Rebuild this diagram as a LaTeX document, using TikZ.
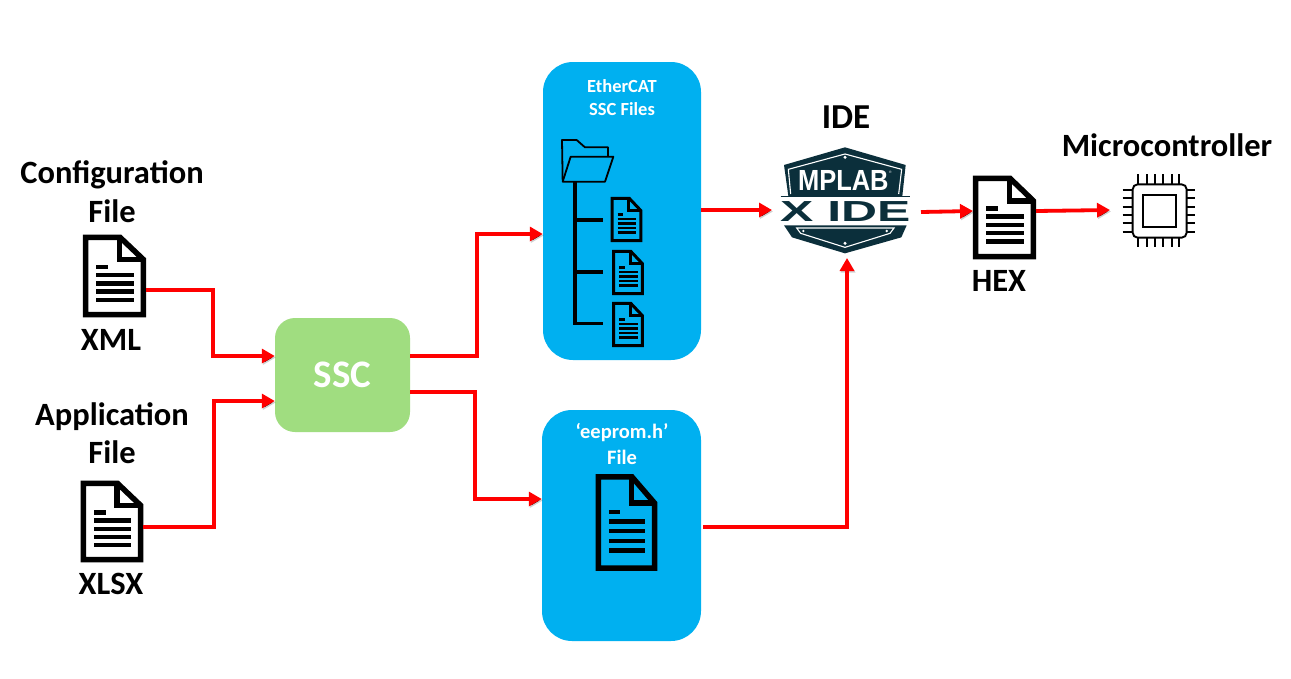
\documentclass[tikz,border=0pt]{standalone}
\usepackage{fontspec}
\setmainfont{Carlito}
\newfontfamily\logofont{Liberation Sans}
\usetikzlibrary{arrows.meta,calc}
\definecolor{flowred}{HTML}{FF0000}
\definecolor{panelblue}{HTML}{00B0F0}
\definecolor{sscgreen}{HTML}{A0DD80}
\definecolor{logoteal}{HTML}{0B2F3B}
\tikzset{
  x=1pt,y=-1pt,
  lbl/.style={font=\fontsize{32.5}{32}\selectfont\bfseries,text=black,anchor=base,inner sep=0pt},
  sublbl/.style={font=\fontsize{19}{19}\selectfont\bfseries,text=white,anchor=base,inner sep=0pt},
  panel/.style={fill=panelblue,draw=none,rounded corners=30pt,inner sep=0pt},
  iconbox/.style={draw=none,inner sep=0pt,outer sep=0pt},
  flow/.style={draw=flowred,line width=3.8pt,line join=miter,-{Triangle[length=13pt,width=14pt]},
    preaction={draw=black,draw opacity=0.18,transform canvas={shift={(1pt,-1.5pt)}}}},
}
% doc icon drawn inside the bounding box of a named node
\newcommand{\docicon}[3]{% node, line width, fill
  \begin{scope}[shift={(#1.north west)},x=($(#1.north east)-(#1.north west)$),y=($(#1.south west)-(#1.north west)$)]
    \path[fill=#3] (0.04,0.03) -- (0.59,0.03) -- (0.96,0.30) -- (0.96,0.97) -- (0.04,0.97) -- cycle;
    \draw[line width=#2,miter limit=4] (0.04,0.03) -- (0.59,0.03) -- (0.96,0.30) -- (0.96,0.97) -- (0.04,0.97) -- cycle;
    \draw[line width=#2] (0.58,0.03) -- (0.58,0.30) -- (0.96,0.30);
    \draw[line width=0.8*#2] (0.21,0.39) -- (0.40,0.39)
      (0.21,0.49) -- (0.81,0.49) (0.21,0.59) -- (0.81,0.59)
      (0.21,0.69) -- (0.81,0.69) (0.21,0.79) -- (0.81,0.79);
  \end{scope}
}
\begin{document}
\begin{tikzpicture}
\useasboundingbox (0,0) rectangle (1291,678);
\fill[white] (0,0) rectangle (1291,678);

% panels and box
\node[panel,minimum width=158pt,minimum height=298pt] (files) at (622,211) {};
\node[panel,minimum width=159pt,minimum height=231pt] (eeprom) at (621.5,525.5) {};
\node[fill=sscgreen,rounded corners=20pt,minimum width=135pt,minimum height=114pt,inner sep=0pt,
  font=\fontsize{39}{39}\selectfont\bfseries,text=white] (ssc) at (342.5,375) {SSC};

% icon placeholders
\node[iconbox,minimum width=63pt,minimum height=82pt] (xml) at (114.5,276) {};
\node[iconbox,minimum width=62pt,minimum height=81pt] (xlsx) at (112,521.5) {};
\node[iconbox,minimum width=63pt,minimum height=83pt] (hex) at (1004.5,217.5) {};
\node[iconbox,minimum width=61pt,minimum height=97pt] (eepromdoc) at (626.5,522.5) {};
\node[iconbox,minimum width=31pt,minimum height=45pt] (fa) at (626.5,219.5) {};
\node[iconbox,minimum width=31pt,minimum height=45pt] (fb) at (628,272.5) {};
\node[iconbox,minimum width=31pt,minimum height=45pt] (fc) at (628,324.5) {};
\node[iconbox,minimum width=150pt,minimum height=111pt] (ide) at (847,202.5) {};
\node[iconbox,minimum width=90pt,minimum height=73pt] (chip) at (1155,210) {};

\docicon{xml}{5.5pt}{white}
\docicon{xlsx}{5.5pt}{white}
\docicon{hex}{5.5pt}{white}
\docicon{eepromdoc}{5.5pt}{panelblue}
\docicon{fa}{3pt}{panelblue}
\docicon{fb}{3pt}{panelblue}
\docicon{fc}{3pt}{panelblue}

% folder + tree
\begin{scope}[shift={(540,60)},scale=1/3]
  \draw[line width=1.8pt,line join=round] (68,362) -- (66,240) -- (110,240) -- (135,262) -- (204,262) -- (204,290);
  \draw[line width=1.8pt,line join=round] (92,290) -- (220,290) -- (195,365) -- (68,365) -- cycle;
  \draw[line width=3.4pt] (105,365) -- (105,791) -- (190,791);
  \draw[line width=3.4pt] (105,480) -- (190,480) (105,636) -- (190,636);
\end{scope}

% MPLAB X IDE logo
\begin{scope}[shift={(760,90)},scale=1/3]
  \fill[logoteal] (255,172) -- (437,225) -- (427,318) -- (85,318) -- (72,225) -- cycle;
  \draw[white,line width=1.1pt] (92,312) -- (85,238) -- (255,192) -- (425,238) -- (416,312);
  \fill[white] (255,202) circle (5);
  \draw[logoteal,line width=1.3pt] (62,320) -- (450,320);
  \fill[logoteal] (72,406) -- (440,406) -- (424,442) -- (255,490) -- (96,442) -- cycle;
  \draw[white,line width=1.1pt] (110,414) -- (122,430) -- (255,472) -- (390,430) -- (402,414) -- cycle;
  \fill[white] (255,460) circle (5) (130,423) circle (4) (380,423) circle (4);
  \node[inner sep=0pt,text=white,font=\logofont\bfseries\fontsize{26}{26}\selectfont,xscale=0.98,yscale=1.12] at (250,272) {MPLAB};
  \node[inner sep=0pt,text=white,font=\logofont\fontsize{3.5}{4}\selectfont] at (391,248) {®};
  \node[inner sep=0pt,text=logoteal,font=\logofont\bfseries\fontsize{29}{29}\selectfont,xscale=1.72] at (256,364) {X IDE};
\end{scope}

% chip
\begin{scope}[shift={(760,90)},scale=1/3,line width=1.9pt,black]
  \draw[rounded corners=5pt] (1118,283) rectangle (1280,443);
  \draw (1148,315) rectangle (1248,412);
  \foreach \p in {1135,1160,1185,1210,1235,1258} {\draw (\p,253) -- (\p,283) (\p,443) -- (\p,472);}
  \foreach \p in {300,325,350,375,400,425} {\draw (1088,\p) -- (1118,\p) (1280,\p) -- (1306,\p);}
\end{scope}

% labels
\node[lbl] (l1) at (112,183.5) {Configuration};
\node[lbl] (l2) at (112,222.5) {File};
\node[lbl] (l3) at (111,350.5) {XML};
\node[lbl] (l4) at (112,425.5) {Application};
\node[lbl] (l5) at (112,463.5) {File};
\node[lbl] (l6) at (111,594.5) {XLSX};
\node[lbl,font=\fontsize{35}{35}\selectfont\bfseries] (l7) at (846,128.5) {IDE};
\node[lbl] (l8) at (999,291.5) {HEX};
\node[lbl] (l9) at (1167,156.5) {Microcontroller};
\node[sublbl,font=\fontsize{18.5}{19}\selectfont\bfseries] (s1) at (622,92) {EtherCAT};
\node[sublbl,font=\fontsize{18.5}{19}\selectfont\bfseries] (s2) at (622,115) {SSC Files};
\node[sublbl,font=\fontsize{20.5}{20}\selectfont\bfseries] (s3) at (622,438) {‘eeprom.h’};
\node[sublbl,font=\fontsize{20.5}{20}\selectfont\bfseries] (s4) at (622,464) {File};

% connectors
\draw[flow] ($(xml.east)+(0,14)$) -- ++(67,0) |- ($(ssc.west)+(0,-19)$);
\draw[flow] ($(xlsx.east)+(0,5.5)$) -- ++(71,0) |- ($(ssc.west)+(0,26)$);
\draw[flow] ($(ssc.east)+(0,-19)$) -- ++(67,0) |- ($(files.west)+(0,23)$);
\draw[flow] ($(ssc.east)+(0,17)$) -- ++(65,0) |- ($(eeprom.west)+(0,-26.5)$);
\draw[flow] ($(files.east)+(0,-1)$) -- ($(ide.west)+(0,7.5)$);
\draw[flow] ($(eeprom.east)+(2,1.5)$) -| (ide.south);
\draw[flow] ($(ide.east)+(-1,9.5)$) -- (hex.west |- 0,211);
\draw[flow] (hex.east |- 0,211) -- (chip.west |- 0,210);
\end{tikzpicture}
\end{document}
